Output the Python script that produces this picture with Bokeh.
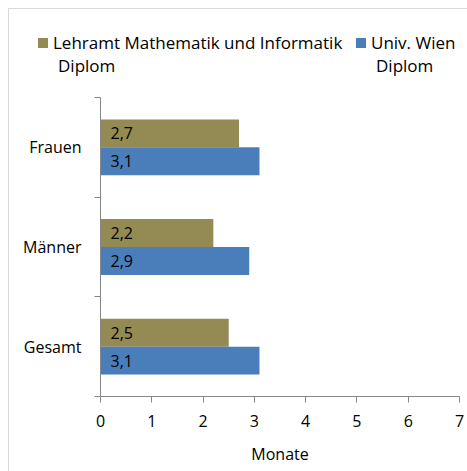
from bokeh.plotting import figure
from bokeh.layouts import column
from bokeh.models import ColumnDataSource, Range1d, FixedTicker, Div
from bokeh.transform import dodge
from bokeh.core.properties import value
from bokeh.embed import file_html
from bokeh.resources import INLINE

categories = ["Frauen", "Männer", "Gesamt"]
lehramt = [2.7, 2.2, 2.5]
univ = [3.1, 2.9, 3.1]
series_line1 = ["Lehramt Mathematik und Informatik", "Univ. Wien"]
series_line2 = ["Diplom", "Diplom"]
x_ticks = [0, 1, 2, 3, 4, 5, 6, 7]
axis_title = "Monate"

FONT = "Open Sans"
OLIVE = "#948A54"
BLUE = "#4A7EBB"
AXIS = "#868686"
COLORS = [OLIVE, BLUE]

pos = [i + 0.5 for i in range(len(categories))]
src = ColumnDataSource(dict(
    y=pos, cat=categories, lehramt=lehramt, univ=univ,
    lab1=[f"{v:.1f}".replace(".", ",") for v in lehramt],
    lab2=[f"{v:.1f}".replace(".", ",") for v in univ],
))

# ---- legend (HTML) ----
leg_left = [29, 347]
items = []
for x0, c, t1, t2 in zip(leg_left, COLORS, series_line1, series_line2):
    items.append(
        f'<div style="position:absolute;left:{x0}px;top:29px;width:10px;height:10px;background:{c};"></div>'
        f'<div style="position:absolute;left:{x0 + 15}px;top:22px;line-height:23px;white-space:nowrap;">'
        f'{t1}<br><span style="padding-left:5px;">{t2}</span></div>'
    )
legend_div = Div(
    text=(f'<div style="position:relative;width:458px;height:80px;font-family:\'{FONT}\';'
          f'font-size:17px;color:black;">' + "".join(items) + '</div>'),
    width=458, height=80, margin=0,
)

# ---- chart ----
p = figure(width=458, height=382, output_backend="svg", toolbar_location=None,
           x_range=Range1d(0, 7), y_range=Range1d(3, 0),
           min_border_left=91, min_border_top=8, min_border_right=8, min_border_bottom=75)
p.outline_line_color = None
p.grid.visible = False

p.hbar(y=dodge("y", -0.14, range=p.y_range), right="lehramt", left=0, height=0.28,
       source=src, fill_color=OLIVE, line_color=None)
p.hbar(y=dodge("y", 0.14, range=p.y_range), right="univ", left=0, height=0.28,
       source=src, fill_color=BLUE, line_color=None)

p.text(x=0, y=dodge("y", -0.14, range=p.y_range), text="lab1", source=src, x_offset=10,
       text_baseline="middle", text_font=value(FONT), text_font_size="16px", text_color="black")
p.text(x=0, y=dodge("y", 0.14, range=p.y_range), text="lab2", source=src, x_offset=10,
       text_baseline="middle", text_font=value(FONT), text_font_size="16px", text_color="black")

p.xaxis.ticker = FixedTicker(ticks=x_ticks)
p.xaxis.axis_line_color = AXIS
p.xaxis.major_tick_line_color = AXIS
p.xaxis.major_tick_out = 6
p.xaxis.major_tick_in = 0
p.xaxis.minor_tick_line_color = None
p.xaxis.major_label_text_font = FONT
p.xaxis.major_label_text_font_size = "16px"
p.xaxis.major_label_text_color = "black"
p.xaxis.major_label_standoff = 12
p.xaxis.axis_label = axis_title
p.xaxis.axis_label_text_font = FONT
p.xaxis.axis_label_text_font_size = "16px"
p.xaxis.axis_label_text_font_style = "normal"
p.xaxis.axis_label_text_color = "black"
p.xaxis.axis_label_standoff = 13

p.yaxis.ticker = FixedTicker(ticks=pos, minor_ticks=list(range(len(categories) + 1)))
p.yaxis.major_label_overrides = {v: c for v, c in zip(pos, categories)}
p.yaxis.axis_line_color = AXIS
p.yaxis.major_tick_line_color = None
p.yaxis.minor_tick_line_color = AXIS
p.yaxis.minor_tick_out = 6
p.yaxis.minor_tick_in = 0
p.yaxis.major_label_text_font = FONT
p.yaxis.major_label_text_font_size = "16px"
p.yaxis.major_label_text_color = "black"
p.yaxis.major_label_standoff = 13

layout = column(legend_div, p, spacing=0,
                styles={"margin-left": "8px", "margin-top": "8px",
                        "border-top": "1px solid #d9d9d9", "border-left": "1px solid #d9d9d9"})

open("out.html", "w").write(file_html(layout, INLINE))
